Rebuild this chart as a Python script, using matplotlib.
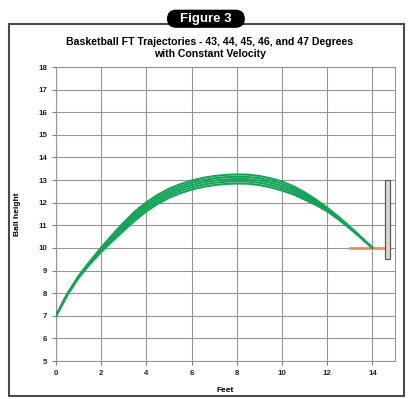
import matplotlib
matplotlib.use("Agg")
import matplotlib.pyplot as plt
from matplotlib.patches import Rectangle, FancyBboxPatch

plt.rcParams['font.family'] = ['Liberation Sans', 'DejaVu Sans']

# distance from the shooter, feet (every half foot)
feet = [0, 0.5, 1, 1.5, 2, 2.5, 3, 3.5, 4, 4.5, 5, 5.5, 6, 6.5, 7, 7.5,
        8, 8.5, 9, 9.5, 10, 10.5, 11, 11.5, 12, 12.5, 13, 13.5, 14]

# ball height for each release angle
h43 = [7.0, 7.93, 8.68, 9.29, 9.82, 10.31, 10.77, 11.22, 11.62, 11.95, 12.22, 12.42, 12.58, 12.70, 12.78,
       12.83, 12.85, 12.84, 12.78, 12.68, 12.54, 12.37, 12.14, 11.90, 11.62, 11.26, 10.86, 10.44, 10.0]
h44 = [7.0, 7.94, 8.70, 9.32, 9.87, 10.38, 10.86, 11.32, 11.72, 12.05, 12.32, 12.52, 12.68, 12.80, 12.88,
       12.93, 12.95, 12.94, 12.88, 12.78, 12.64, 12.46, 12.22, 11.96, 11.66, 11.29, 10.88, 10.45, 10.0]
h45 = [7.0, 7.95, 8.72, 9.35, 9.92, 10.45, 10.95, 11.42, 11.82, 12.15, 12.42, 12.62, 12.78, 12.90, 12.98,
       13.03, 13.05, 13.04, 12.98, 12.88, 12.74, 12.55, 12.30, 12.02, 11.70, 11.32, 10.90, 10.46, 10.0]
h46 = [7.0, 7.96, 8.74, 9.38, 9.97, 10.52, 11.04, 11.52, 11.92, 12.25, 12.52, 12.72, 12.88, 13.00, 13.08,
       13.13, 13.15, 13.14, 13.08, 12.98, 12.84, 12.64, 12.38, 12.08, 11.74, 11.35, 10.92, 10.47, 10.0]
h47 = [7.0, 7.97, 8.76, 9.41, 10.02, 10.59, 11.13, 11.62, 12.02, 12.35, 12.62, 12.82, 12.98, 13.10, 13.18,
       13.23, 13.25, 13.24, 13.18, 13.08, 12.94, 12.73, 12.46, 12.14, 11.78, 11.38, 10.94, 10.48, 10.0]
curves = [h43, h44, h45, h46, h47]

# hoop rim and backboard
rim_x = [13.0, 14.55]
rim_y = [10, 10]
board_x = 14.55
board_w = 0.25
board_bottom = 9.5
board_top = 13.0

fig = plt.figure(figsize=(4.11, 3.99), dpi=100)
ax = fig.add_axes([0.1363, 0.0952, 0.8248, 0.7368])

for h in curves:
    ax.plot(feet, h, color='#12a558', lw=1.5, solid_capstyle='round', solid_joinstyle='round', zorder=3)

ax.plot(rim_x, rim_y, color='#f4864a', lw=1.9, zorder=2)
ax.add_patch(Rectangle((board_x, board_bottom), board_w, board_top - board_bottom,
                       facecolor='#d8d8d3', edgecolor='#5a5a5a', lw=0.9, zorder=4))

ax.set_xlim(0, 15)
ax.set_ylim(5, 18)
ax.set_xticks(range(0, 15, 2))
ax.set_yticks(range(5, 19))
ax.grid(True, color='#969696', lw=0.8)
ax.set_axisbelow(True)
for s in ax.spines.values():
    s.set_color('#969696')
    s.set_linewidth(0.8)
ax.tick_params(length=3, width=0.8, color='#808080', labelsize=5.7, pad=3.5, labelcolor='#222222')
for lab in ax.get_xticklabels() + ax.get_yticklabels():
    lab.set_fontweight('bold')

ax.set_xlabel('Feet', fontsize=6, fontweight='bold', labelpad=7)
ax.set_ylabel('Ball height', fontsize=6, fontweight='bold', labelpad=12)

fig.text(0.511, 0.880, 'Basketball FT Trajectories - 43, 44, 45, 46, and 47 Degrees\nwith Constant Velocity',
         ha='center', va='center', fontsize=7.6, fontweight='bold', linespacing=1.25)

# outer frame and "Figure 3" badge
fig.patches.append(Rectangle((0.0219, 0.0075), 0.9611, 0.9323, transform=fig.transFigure,
                             fill=False, edgecolor='#4a4a4a', lw=1.5))
fig.patches.append(FancyBboxPatch((0.408, 0.932), 0.186, 0.042, transform=fig.transFigure,
                                  boxstyle='round,pad=0,rounding_size=0.021',
                                  facecolor='black', edgecolor='black'))
fig.text(0.501, 0.953, 'Figure 3', ha='center', va='center', color='white',
         fontsize=9.5, fontweight='bold')

fig.savefig('out.png', dpi=100)
